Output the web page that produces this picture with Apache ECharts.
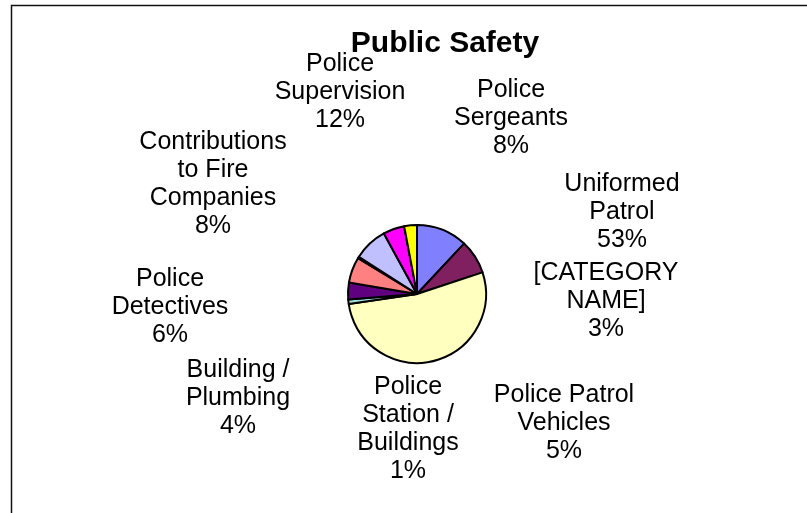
<!DOCTYPE html>
<html>
<head>
<meta charset="utf-8">
<style>
  html, body { margin: 0; padding: 0; background: #fff; }
  #chart { width: 807px; height: 513px; }
</style>
<script src="https://cdn.jsdelivr.net/npm/echarts@6/dist/echarts.min.js"></script>
</head>
<body>
<div id="chart"></div>
<script>
// Budget categories (line breaks are part of the drawn label text)
const categories = [
  'Police\nSupervision',
  'Police\nSergeants',
  'Uniformed\nPatrol',
  'Police\nStation /\nBuildings',
  'Building /\nPlumbing',
  'Police\nDetectives',
  'Other',
  'Contributions\nto Fire\nCompanies',
  'Police Patrol\nVehicles',
  '[CATEGORY\nNAME]'
];
// Share of the public safety budget, in percent
const values = [12, 8, 53, 1, 4, 6, 0.4, 8, 5, 3];
// Slices whose label is not shown
const hiddenLabels = ['Other'];

// Slice fills, in the same order as the categories
const sliceColors = ['#8080FF', '#802060', '#FFFFC0', '#A0E0E0', '#600080',
                     '#FF8080', '#0070C0', '#C0C0FF', '#FF00FF', '#FFFF00'];
// Label block centres (dragged by hand in the original workbook)
const labelSpots = [
  [340, 92], [511, 118], [622, 212], [408, 429], [238, 398],
  [170, 307], [0, 0], [213, 184], [564, 423], [606, 301]
];

const chart = echarts.init(document.getElementById('chart'), null, { renderer: 'canvas' });

chart.setOption({
  animation: false,
  backgroundColor: '#fff',
  title: {
    text: 'Public Safety',
    left: 440,
    top: 24,
    textAlign: 'center',
    textStyle: {
      fontFamily: 'Liberation Sans, Arial, sans-serif',
      fontWeight: 'bold',
      fontSize: 30,
      color: '#000'
    }
  },
  graphic: [{
    type: 'rect',
    shape: { x: 11.5, y: 5.5, width: 900, height: 600 },
    style: { fill: 'none', stroke: '#111', lineWidth: 1.5 },
    silent: true
  }],
  series: [{
    type: 'pie',
    center: [417, 294],
    radius: [0, 69],
    startAngle: 90,
    clockwise: true,
    percentPrecision: 0,
    avoidLabelOverlap: false,
    itemStyle: { borderColor: '#000', borderWidth: 2 },
    label: {
      show: true,
      formatter: '{b}\n{d}%',
      fontFamily: 'Liberation Sans, Arial, sans-serif',
      fontSize: 25,
      lineHeight: 28,
      color: '#000',
      align: 'center'
    },
    labelLine: { show: false },
    labelLayout: function (params) {
      const p = labelSpots[params.dataIndex];
      return { x: p[0], y: p[1], align: 'center', verticalAlign: 'middle' };
    },
    emphasis: { disabled: true },
    data: categories.map(function (name, i) {
      return {
        name: name,
        value: values[i],
        itemStyle: { color: sliceColors[i] },
        label: { show: hiddenLabels.indexOf(name) < 0 }
      };
    })
  }]
});
</script>
</body>
</html>
